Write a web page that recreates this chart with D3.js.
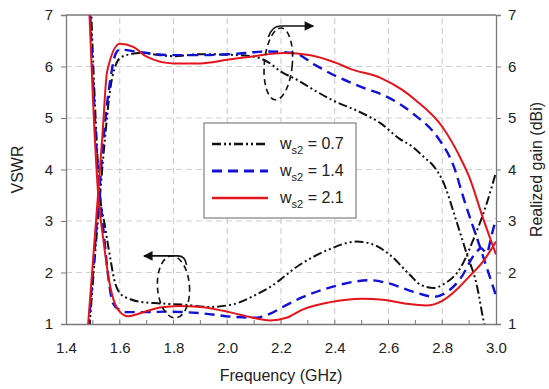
<!DOCTYPE html>
<html>
<head>
<meta charset="utf-8">
<script src="https://cdn.jsdelivr.net/npm/d3@7"></script>
<style>
  body { margin: 0; background: #fff; }
  svg { display: block; font-family: Arial, "Liberation Sans", sans-serif; }
</style>
</head>
<body>
<script>
//Frequency ticks and value ticks (both y axes share 1..7).
var freqTicks = [1.4, 1.6, 1.8, 2.0, 2.2, 2.4, 2.6, 2.8, 3.0];
var valueTicks = [1, 2, 3, 4, 5, 6, 7];
var legendLabels = ["0.7", "1.4", "2.1"];

//VSWR curves (left axis).
var vswrFreq07 = [1.492, 1.505, 1.525, 1.545, 1.564, 1.58, 1.6, 1.64, 1.675, 1.75, 1.85, 1.93, 2.02, 2.1, 2.16, 2.27, 2.38, 2.48, 2.54, 2.61, 2.68, 2.72, 2.77, 2.8, 2.87, 2.915, 2.966, 3.0];
var vswr07 = [7.3, 5.6, 3.6, 2.9, 2.3, 1.85, 1.6, 1.48, 1.43, 1.4, 1.37, 1.33, 1.38, 1.55, 1.72, 2.15, 2.45, 2.6, 2.55, 2.32, 1.95, 1.76, 1.7, 1.76, 2.11, 2.63, 3.35, 3.95];

var vswrFreq14 = [1.488, 1.5, 1.52, 1.54, 1.56, 1.575, 1.6, 1.627, 1.7, 1.78, 1.9, 2.02, 2.1, 2.16, 2.21, 2.28, 2.39, 2.47, 2.53, 2.6, 2.69, 2.77, 2.82, 2.87, 2.92, 2.945, 2.965, 2.985, 3.0];
var vswr14 = [7.3, 5.8, 3.9, 2.8, 1.8, 1.4, 1.27, 1.23, 1.23, 1.24, 1.21, 1.14, 1.12, 1.2, 1.34, 1.52, 1.72, 1.82, 1.85, 1.79, 1.63, 1.53, 1.63, 1.9, 2.35, 2.47, 2.38, 2.75, 3.05];

var vswrFreq21 = [1.485, 1.5, 1.52, 1.54, 1.56, 1.58, 1.6, 1.63, 1.67, 1.75, 1.82, 1.9, 2.0, 2.08, 2.16, 2.22, 2.28, 2.38, 2.5, 2.58, 2.66, 2.74, 2.8, 2.85, 2.9, 2.95, 3.0];
var vswr21 = [7.3, 5.4, 3.5, 2.6, 1.85, 1.42, 1.24, 1.15, 1.2, 1.32, 1.35, 1.33, 1.24, 1.14, 1.07, 1.12, 1.28, 1.42, 1.49, 1.47, 1.4, 1.36, 1.45, 1.65, 1.92, 2.2, 2.6];

//Realized gain curves (right axis).
var gainFreq07 = [1.487, 1.5, 1.525, 1.545, 1.564, 1.58, 1.6, 1.64, 1.675, 1.8, 1.9, 2.0, 2.1, 2.15, 2.2, 2.26, 2.33, 2.39, 2.5, 2.57, 2.64, 2.69, 2.73, 2.77, 2.8, 2.855, 2.89, 2.93, 2.953, 2.97];
var gain07 = [0.9, 1.8, 3.4, 4.6, 5.54, 5.95, 6.16, 6.24, 6.26, 6.2, 6.24, 6.23, 6.19, 6.09, 5.9, 5.74, 5.52, 5.35, 5.1, 4.9, 4.6, 4.44, 4.25, 4.05, 3.8, 2.96, 2.38, 1.72, 1.08, 0.7];

var gainFreq14 = [1.484, 1.5, 1.52, 1.545, 1.565, 1.585, 1.6, 1.66, 1.79, 1.9, 2.01, 2.15, 2.25, 2.32, 2.39, 2.5, 2.595, 2.69, 2.79, 2.84, 2.885, 2.94, 3.0];
var gain14 = [0.9, 2.0, 3.3, 4.9, 5.75, 6.25, 6.33, 6.29, 6.22, 6.22, 6.24, 6.29, 6.26, 6.05, 5.85, 5.6, 5.41, 5.09, 4.57, 4.1, 3.35, 2.5, 1.55];

var gainFreq21 = [1.481, 1.5, 1.519, 1.536, 1.553, 1.6, 1.65, 1.7, 1.8, 1.9, 2.0, 2.1, 2.21, 2.31, 2.4, 2.46, 2.57, 2.65, 2.7, 2.8, 2.87, 2.9, 2.95, 3.0];
var gain21 = [0.9, 2.2, 3.5, 4.7, 5.9, 6.44, 6.38, 6.19, 6.06, 6.06, 6.13, 6.2, 6.26, 6.22, 6.08, 5.95, 5.78, 5.55, 5.35, 4.83, 4.2, 3.86, 3.08, 2.35];

//Saving Width and Height Variables.
var width = 549;
var height = 389;
var margin = {top: 15, right: 53, bottom: 65, left: 66};

var svg = d3.select("body").append("svg").attr("width", width).attr("height", height);

//Scales (same range on both sides).
var xScale = d3.scaleLinear().domain([1.4, 3.0]).range([margin.left, width - margin.right]);
var yScale = d3.scaleLinear().domain([1, 7]).range([height - margin.bottom, margin.top]);

var axisColor = "#7a7a7a";
var textColor = "#222";

//Dashed grid lines.
svg.append("g").selectAll("line").data(freqTicks.slice(1, -1)).enter().append("line")
   .attr("x1", function(d) { return xScale(d); }).attr("x2", function(d) { return xScale(d); })
   .attr("y1", yScale(1)).attr("y2", yScale(7))
   .attr("stroke", "#d0d0d0").attr("stroke-width", 1.2).attr("stroke-dasharray", "6,4");

svg.append("g").selectAll("line").data(valueTicks.slice(1, -1)).enter().append("line")
   .attr("x1", xScale(1.4)).attr("x2", xScale(3.0))
   .attr("y1", function(d) { return yScale(d); }).attr("y2", function(d) { return yScale(d); })
   .attr("stroke", "#d0d0d0").attr("stroke-width", 1.2).attr("stroke-dasharray", "6,4");

//Axes.
var bottomAxis = d3.axisBottom(xScale).tickValues(freqTicks).tickFormat(d3.format(".1f")).tickSize(0).tickPadding(18);
var leftAxis = d3.axisLeft(yScale).tickValues(valueTicks).tickFormat(d3.format("d")).tickSize(5).tickPadding(8);
var rightAxis = d3.axisRight(yScale).tickValues(valueTicks).tickFormat(d3.format("d")).tickSize(5).tickPadding(7);

function styleAxis(g) {
  g.select(".domain").attr("stroke", axisColor).attr("stroke-width", 1.3);
  g.selectAll(".tick line").attr("stroke", axisColor);
  g.selectAll(".tick text").attr("fill", textColor).style("font-size", "15px");
}

svg.append("g").attr("transform", "translate(0," + yScale(1) + ")").call(bottomAxis).call(styleAxis);
svg.append("g").attr("transform", "translate(" + xScale(1.4) + ",0)").call(leftAxis).call(styleAxis);
svg.append("g").attr("transform", "translate(" + xScale(3.0) + ",0)").call(rightAxis).call(styleAxis);

//Top frame line.
svg.append("line").attr("x1", xScale(1.4)).attr("x2", xScale(3.0)).attr("y1", yScale(7)).attr("y2", yScale(7))
   .attr("stroke", axisColor).attr("stroke-width", 1.3);

//Minor inward ticks on the frequency axis.
var minorTicks = d3.range(15).map(function(i) { return 1.5 + i * 0.1; });
svg.append("g").selectAll("line").data(minorTicks).enter().append("line")
   .attr("x1", function(d) { return xScale(d); }).attr("x2", function(d) { return xScale(d); })
   .attr("y1", yScale(1)).attr("y2", yScale(1) - 4)
   .attr("stroke", axisColor);

//Axis titles.
svg.append("text").attr("x", (xScale(1.4) + xScale(3.0)) / 2).attr("y", 381)
   .attr("text-anchor", "middle").attr("fill", textColor).style("font-size", "16px").text("Frequency (GHz)");
svg.append("text").attr("transform", "translate(23," + yScale(4) + ") rotate(-90)")
   .attr("text-anchor", "middle").attr("fill", textColor).style("font-size", "16px").text("VSWR");
svg.append("text").attr("transform", "translate(542," + yScale(4) + ") rotate(-90)")
   .attr("text-anchor", "middle").attr("fill", textColor).style("font-size", "16px").text("Realized gain (dBi)");

//Clip the curves to the plot area.
svg.append("clipPath").attr("id", "plotClip").append("rect")
   .attr("x", xScale(1.4)).attr("y", yScale(7)).attr("width", xScale(3.0) - xScale(1.4)).attr("height", yScale(1) - yScale(7));

var line = d3.line()
  .x(function(d) { return xScale(d[0]); })
  .y(function(d) { return yScale(d[1]); })
  .curve(d3.curveMonotoneX);

//Series styles.
var styles = [
  {color: "#111111", dash: "9,3,2,3,2,3", width: 2},
  {color: "#1010d8", dash: "10,6", width: 2.4},
  {color: "#e4141c", dash: null, width: 2}
];

var series = [
  {f: vswrFreq07, v: vswr07, s: 0}, {f: gainFreq07, v: gain07, s: 0},
  {f: vswrFreq14, v: vswr14, s: 1}, {f: gainFreq14, v: gain14, s: 1},
  {f: vswrFreq21, v: vswr21, s: 2}, {f: gainFreq21, v: gain21, s: 2}
];

var curves = svg.append("g").attr("clip-path", "url(#plotClip)");
series.forEach(function(sr) {
  var pts = sr.f.map(function(f, i) { return [f, sr.v[i]]; });
  var st = styles[sr.s];
  curves.append("path").attr("d", line(pts))
    .attr("fill", "none").attr("stroke", st.color).attr("stroke-width", st.width)
    .attr("stroke-dasharray", st.dash);
});

//Ellipses with arrows marking which axis each family belongs to.
var markerDefs = svg.append("defs");
markerDefs.append("marker").attr("id", "arrowHead").attr("viewBox", "0 0 10 10")
  .attr("refX", 9).attr("refY", 5).attr("markerWidth", 7).attr("markerHeight", 6).attr("orient", "auto")
  .append("path").attr("d", "M0,0 L10,5 L0,10 z").attr("fill", "#111");

//Gain ellipse and right arrow.
var gx = xScale(2.19), gy = yScale(6.05);
svg.append("ellipse").attr("cx", gx).attr("cy", gy).attr("rx", 14).attr("ry", 36)
   .attr("transform", "rotate(5," + gx + "," + gy + ")")
   .attr("fill", "none").attr("stroke", "#111").attr("stroke-width", 1.6).attr("stroke-dasharray", "6,4");
svg.append("path").attr("d", "M" + (gx - 10) + "," + (gy - 27) + " Q" + (gx - 6) + "," + (gy - 38) + " " + (gx + 2) + "," + (gy - 38) + " L" + xScale(2.32) + "," + (gy - 38))
   .attr("fill", "none").attr("stroke", "#111").attr("stroke-width", 1.6).attr("marker-end", "url(#arrowHead)");

//VSWR ellipse and left arrow.
var vx = xScale(1.8), vy = yScale(1.72);
svg.append("ellipse").attr("cx", vx).attr("cy", vy).attr("rx", 16).attr("ry", 31)
   .attr("transform", "rotate(-4," + vx + "," + vy + ")")
   .attr("fill", "none").attr("stroke", "#111").attr("stroke-width", 1.6).attr("stroke-dasharray", "6,4");
svg.append("path").attr("d", "M" + (vx + 13) + "," + (vy - 22) + " Q" + (vx + 12) + "," + (vy - 31) + " " + (vx + 4) + "," + (vy - 31) + " L" + xScale(1.69) + "," + (vy - 31))
   .attr("fill", "none").attr("stroke", "#111").attr("stroke-width", 1.6).attr("marker-end", "url(#arrowHead)");

//Legend box.
var legend = svg.append("g").attr("transform", "translate(204,123)");
legend.append("rect").attr("width", 152).attr("height", 95)
  .attr("fill", "#fff").attr("stroke", "#8a8a8a").attr("stroke-width", 1.3);

legendLabels.forEach(function(lab, i) {
  var yy = 21 + i * 27;
  var st = styles[i];
  legend.append("line").attr("x1", 8).attr("x2", 64).attr("y1", yy).attr("y2", yy)
    .attr("stroke", st.color).attr("stroke-width", st.width + 0.4).attr("stroke-dasharray", st.dash);
  var t = legend.append("text").attr("x", 76).attr("y", yy + 5).attr("fill", textColor).style("font-size", "16px");
  t.append("tspan").text("w");
  t.append("tspan").attr("dy", 5).style("font-size", "11px").text("s2");
  t.append("tspan").attr("dy", -5).text(" = " + lab);
});
</script>
</body>
</html>
